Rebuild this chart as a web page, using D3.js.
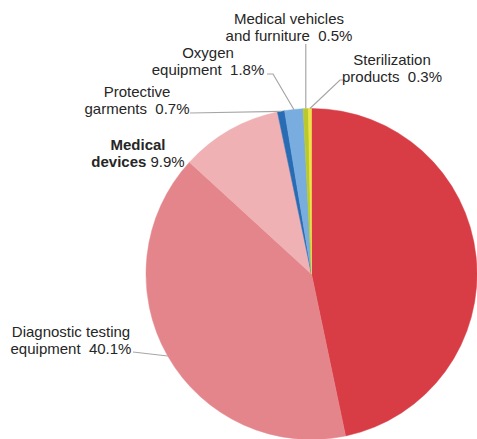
<!DOCTYPE html>
<html>
<head>
<meta charset="utf-8">
<script src="https://cdn.jsdelivr.net/npm/d3@7"></script>
<style>
  body { margin: 0; background: white; }
  svg { display: block; }
  .lbl { font-family: "Liberation Sans", Arial, sans-serif; font-size: 15px; fill: #262626; white-space: pre; }
  .leader { fill: none; stroke: #a6a6a6; stroke-width: 1.2; }
</style>
</head>
<body>
<div id="wykres"></div>
<script>
// slices, clockwise from 12 o'clock
var categories = ["Other", "Diagnostic testing equipment", "Medical devices", "Protective garments",
  "Oxygen equipment", "Medical vehicles and furniture", "Sterilization products"];
var values = [46.7, 40.1, 9.9, 0.7, 1.8, 0.5, 0.3];
var colors = ["#d83c44", "#e4858b", "#efb1b4", "#2a6cb4", "#79ade0", "#b9c92c", "#efe245"];
// label text per slice (last line gets the percentage)
var labelLines = [
  null,
  ["Diagnostic testing", "equipment"],
  ["Medical", "devices"],
  ["Protective", "garments"],
  ["Oxygen", "equipment"],
  ["Medical vehicles", "and furniture"],
  ["Sterilization", "products"]
];

var width = 477, height = 439;
var cx = 311.5, cy = 274, radius = 165.5;

var svg = d3.select("#wykres")
  .append("svg")
  .attr("width", width)
  .attr("height", height);

var g = svg.append("g")
  .attr("transform", "translate(" + cx + "," + cy + ")");

var pie = d3.pie().sort(null).value(d => d);
var arcs = pie(values);

var arc = d3.arc().innerRadius(0).outerRadius(radius);
var edge = d3.arc().innerRadius(radius).outerRadius(radius);

g.selectAll("path.slice")
  .data(arcs)
  .enter().append("path")
  .attr("class", "slice")
  .attr("d", arc)
  .attr("fill", (d, i) => colors[i])
  .attr("stroke", (d, i) => colors[i])
  .attr("stroke-width", 0.5);

// label placement (page coords): centre x, first baseline, leader points after the pie edge
var layout = [
  null,
  { x: 71, y: 337, leader: [[133, 352]] },
  { x: 138, y: 150, bold: true, leader: [] },
  { x: 137, y: 97, leader: [[190, 113]] },
  { x: 208, y: 58, leader: [[273, 74], [267, 74]] },
  { x: 289, y: 24, leader: [[null, 44]] },
  { x: 392, y: 65, leader: [[340, 80], [344, 80]] }
];

var fmt = d => d3.format(".1f")(d) + "%";

arcs.forEach(function (a, i) {
  var L = layout[i];
  if (!L) return;

  var p = edge.centroid(a);
  var start = [cx + p[0], cy + p[1]];
  if (L.leader.length) {
    var pts = [start].concat(L.leader.map(q => [q[0] == null ? start[0] : q[0], q[1]]));
    svg.append("path")
      .attr("class", "leader")
      .attr("d", d3.line()(pts));
  }

  var lines = labelLines[i];
  var t = svg.append("text")
    .attr("class", "lbl")
    .attr("text-anchor", "middle")
    .attr("x", L.x)
    .attr("y", L.y);

  lines.forEach(function (ln, j) {
    var last = j == lines.length - 1;
    var ts = t.append("tspan")
      .attr("x", L.x)
      .attr("dy", j == 0 ? 0 : 17)
      .style("font-weight", L.bold ? "bold" : null)
      .text(ln);
    if (last) {
      t.append("tspan")
        .text((L.bold ? " " : "  ") + fmt(values[i]));
    }
  });
});
</script>
</body>
</html>
